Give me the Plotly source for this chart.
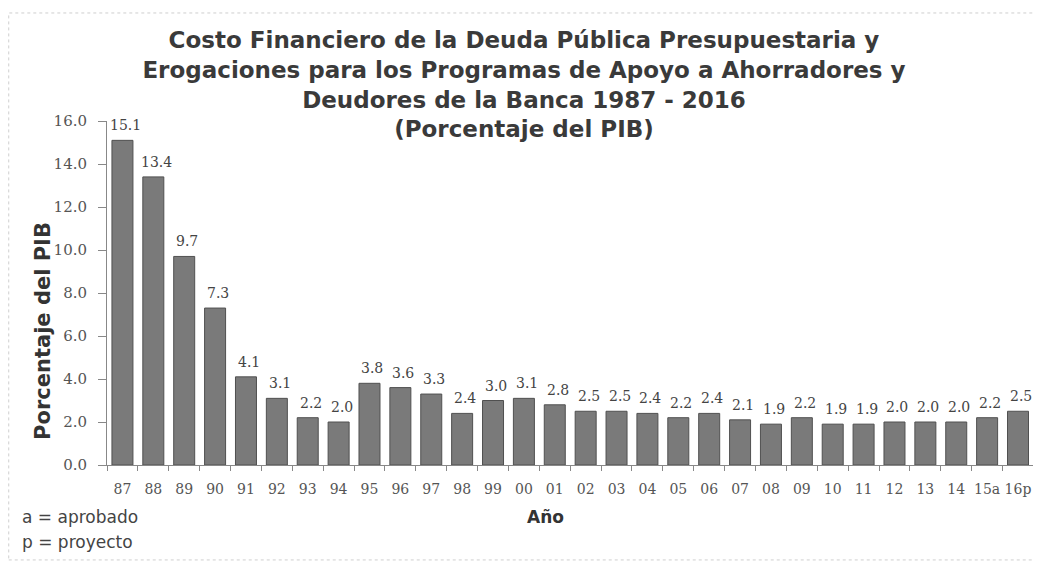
import plotly.graph_objects as go

years = ["87", "88", "89", "90", "91", "92", "93", "94", "95", "96", "97", "98", "99", "00", "01",
         "02", "03", "04", "05", "06", "07", "08", "09", "10", "11", "12", "13", "14", "15a", "16p"]
values = [15.1, 13.4, 9.7, 7.3, 4.1, 3.1, 2.2, 2.0, 3.8, 3.6, 3.3, 2.4, 3.0, 3.1, 2.8,
          2.5, 2.5, 2.4, 2.2, 2.4, 2.1, 1.9, 2.2, 1.9, 1.9, 2.0, 2.0, 2.0, 2.2, 2.5]
y_ticks = [0, 2, 4, 6, 8, 10, 12, 14, 16]
y_tick_labels = ["0.0", "2.0", "4.0", "6.0", "8.0", "10.0", "12.0", "14.0", "16.0"]

title_lines = ["Costo Financiero de la Deuda Pública Presupuestaria y",
               "Erogaciones para los Programas de Apoyo a Ahorradores y",
               "Deudores de la Banca 1987 - 2016",
               "(Porcentaje del PIB)"]
notes = ["a = aprobado", "p = proyecto"]

SERIF = "DejaVu Serif, serif"
SANS = "DejaVu Sans, sans-serif"

fig = go.Figure()
fig.add_trace(go.Bar(
    x=years, y=values,
    marker=dict(color="#7a7a7a", line=dict(color="#505050", width=1)),
    showlegend=False,
))

for i, v in enumerate(values):
    fig.add_annotation(x=i, y=v, text=f"{v:.1f}", showarrow=False,
                       xanchor="center", yanchor="bottom", xshift=3, yshift=5,
                       font=dict(family=SERIF, size=14, color="#444444"))

fig.update_layout(
    width=1033, height=560,
    paper_bgcolor="white", plot_bgcolor="white",
    margin=dict(l=99, r=7, t=113, b=103),
    bargap=0.32,
    title=dict(text="<br>".join(title_lines), x=0.4995, xanchor="center", y=0.929, yanchor="top",
               font=dict(family=SANS, size=23, color="#3a3a3a", weight="bold")),
    xaxis=dict(type="category", showline=True, linecolor="#888888", ticks="outside",
               tickson="boundaries", tickcolor="#888888", ticklen=5, showgrid=False,
               tickangle=0, ticklabelstandoff=11,
               tickfont=dict(family=SERIF, size=14, color="#555555")),
    yaxis=dict(range=[0, 16], tickvals=y_ticks, ticktext=y_tick_labels, showline=True,
               linecolor="#888888", ticks="outside", tickcolor="#888888", ticklen=8,
               showgrid=False, zeroline=False, ticklabelstandoff=8,
               tickfont=dict(family=SERIF, size=15, color="#555555")),
)

# axis titles
fig.add_annotation(xref="paper", yref="paper", x=0.4725, y=-0.151, xanchor="center", yanchor="middle",
                   text="Año", showarrow=False,
                   font=dict(family=SANS, size=17, color="#333333", weight="bold"))
fig.add_annotation(xref="paper", yref="paper", x=-0.069, y=0.39, xanchor="center", yanchor="middle",
                   text="Porcentaje del PIB", textangle=-90, showarrow=False,
                   font=dict(family=SANS, size=21, color="#333333", weight="bold"))

# notes
for note, yy in zip(notes, [-0.151, -0.224]):
    fig.add_annotation(xref="paper", yref="paper", x=-0.094, y=yy, xanchor="left", yanchor="middle",
                       text=note, showarrow=False,
                       font=dict(family=SANS, size=17, color="#444444"))

# faint frame around the picture
fig.add_shape(type="rect", xref="paper", yref="paper", x0=-0.106, x1=1.0022, y0=-0.276, y1=1.314,
              line=dict(width=1, color="#cfcfcf", dash="dot"), layer="below")

fig.write_html("out.html")
